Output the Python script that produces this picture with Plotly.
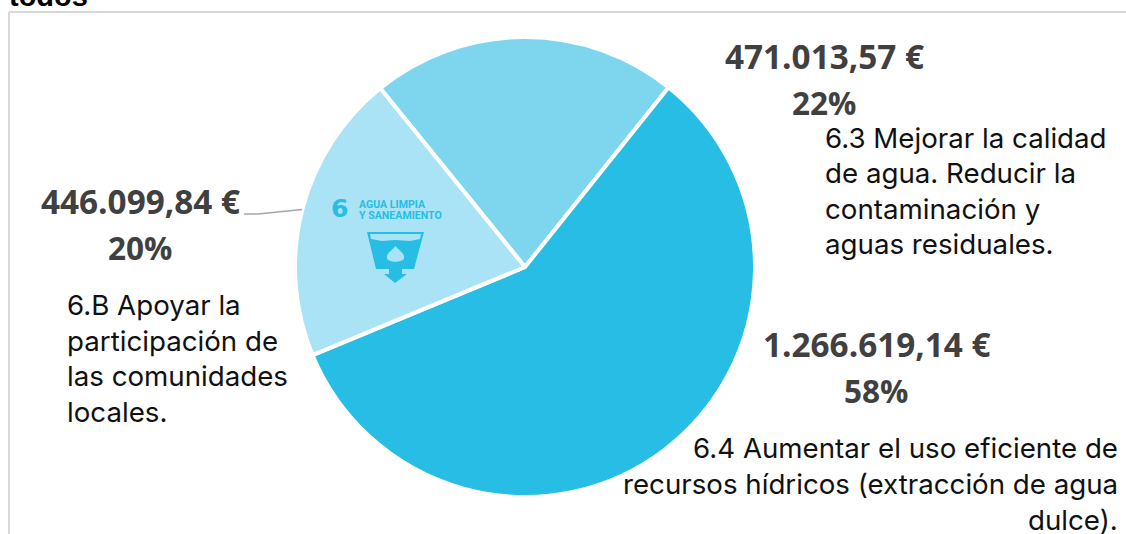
import plotly.graph_objects as go

W, H = 1126, 534

labels = ["6.3", "6.4", "6.B"]
values = [471013.57, 1266619.14, 446099.84]
colors = ["#7DD6EE", "#27BDE4", "#A9E3F5"]
amounts = ["471.013,57 €", "1.266.619,14 €", "446.099,84 €"]
percents = ["22%", "58%", "20%"]
descriptions = [
    ["6.3 Mejorar la calidad", "de agua. Reducir la", "contaminación y", "aguas residuales."],
    ["6.4 Aumentar el uso eficiente de", "recursos hídricos (extracción de agua", "dulce)."],
    ["6.B Apoyar la", "participación de", "las comunidades", "locales."],
]


def px(x):
    return x / W


def py(y):
    return 1 - y / H


CX, CY, R = 525, 267, 230

fig = go.Figure(go.Pie(
    labels=labels, values=values, sort=False, direction="clockwise", rotation=321,
    marker=dict(colors=colors, line=dict(color="white", width=4)),
    textinfo="none", hoverinfo="label+value+percent", showlegend=False,
    domain=dict(x=[px(CX - R), px(CX + R)], y=[py(CY + R), py(CY - R)]),
))

AMT_FONT = dict(family="Open Sans", size=33.3, color="#404040")
PCT_FONT = dict(family="Open Sans", size=31.5, color="#404040")
TXT_FONT = dict(family="Inter", size=27.7, color="#111111")
annotations = []


def text(x, y, s, font, anchor="center"):
    annotations.append(dict(xref="paper", yref="paper", x=px(x), y=py(y), text=s, showarrow=False,
                            xanchor=anchor, yanchor="middle", font=font, align=anchor,
                            borderpad=0, borderwidth=0))


# value labels
text(824, 56, f"<b>{amounts[0]}</b>", AMT_FONT)
text(824, 102, f"<b>{percents[0]}</b>", PCT_FONT)
text(877, 344, f"<b>{amounts[1]}</b>", AMT_FONT)
text(876, 390, f"<b>{percents[1]}</b>", PCT_FONT)
text(140, 201, f"<b>{amounts[2]}</b>", AMT_FONT)
text(140, 247, f"<b>{percents[2]}</b>", PCT_FONT)

# descriptions
for i, s in enumerate(descriptions[0]):
    text(825, 138 + i * 35.5, s, TXT_FONT, "left")
for i, s in enumerate(descriptions[1]):
    text(1118, 448 + i * 36, s, TXT_FONT, "right")
for i, s in enumerate(descriptions[2]):
    text(67, 305 + i * 35.5, s, TXT_FONT, "left")

# clipped title
text(9, -4, "<b>todos</b>", dict(family="Liberation Sans", size=29, color="#000000"), "left")

# SDG 6 logo text
LOGO = "#27BDE4"
text(331, 209, "<b>6</b>", dict(family="DejaVu Sans", size=25, color=LOGO), "left")
text(359, 204, "<b>AGUA LIMPIA</b>", dict(family="Roboto", size=10.6, color=LOGO), "left")
text(359, 215.5, "<b>Y SANEAMIENTO</b>", dict(family="Roboto", size=10.6, color=LOGO), "left")


def path(points):
    return "M " + " L ".join(f"{px(x)} {py(y)}" for x, y in points) + " Z"


shapes = [
    # chart frame
    dict(type="line", xref="paper", yref="paper", x0=px(9), x1=1, y0=py(12), y1=py(12),
         line=dict(color="#D9D9D9", width=2)),
    dict(type="line", xref="paper", yref="paper", x0=px(9), x1=px(9), y0=py(12), y1=0,
         line=dict(color="#D9D9D9", width=2)),
    # leader line
    dict(type="path", xref="paper", yref="paper", line=dict(color="#A6A6A6", width=1.5),
         path=f"M {px(244)} {py(214)} L {px(258)} {py(214)} L {px(302)} {py(209.5)}"),
    # logo: cup
    dict(type="path", xref="paper", yref="paper", line=dict(width=0), fillcolor=LOGO,
         path=path([(367, 232), (424, 232), (414, 269), (402, 269), (402, 274), (407, 274),
                    (395, 283), (384, 274), (389, 274), (389, 269), (376, 269)])),
    # logo: air gap in cup
    dict(type="path", xref="paper", yref="paper", line=dict(width=0), fillcolor="#A9E3F5",
         path=path([(370, 234), (421, 234), (420, 239), (410, 241), (395, 240), (382, 241), (371, 239)])),
    # logo: droplet
    dict(type="path", xref="paper", yref="paper", line=dict(width=0), fillcolor="#A9E3F5",
         path=f"M {px(395.5)} {py(246)} C {px(399)} {py(251)} {px(405)} {py(253)} {px(404)} {py(258)} "
              f"C {px(403)} {py(263)} {px(388)} {py(263)} {px(387)} {py(258)} "
              f"C {px(386)} {py(253)} {px(392)} {py(251)} {px(395.5)} {py(246)} Z"),
]

fig.update_layout(
    width=W, height=H, autosize=False, margin=dict(l=0, r=0, t=0, b=0),
    paper_bgcolor="white", annotations=annotations, shapes=shapes,
)
fig.write_html("out.html", config=dict(displayModeBar=False),
               post_script="document.body.style.margin='0';document.body.style.overflow='hidden';")
